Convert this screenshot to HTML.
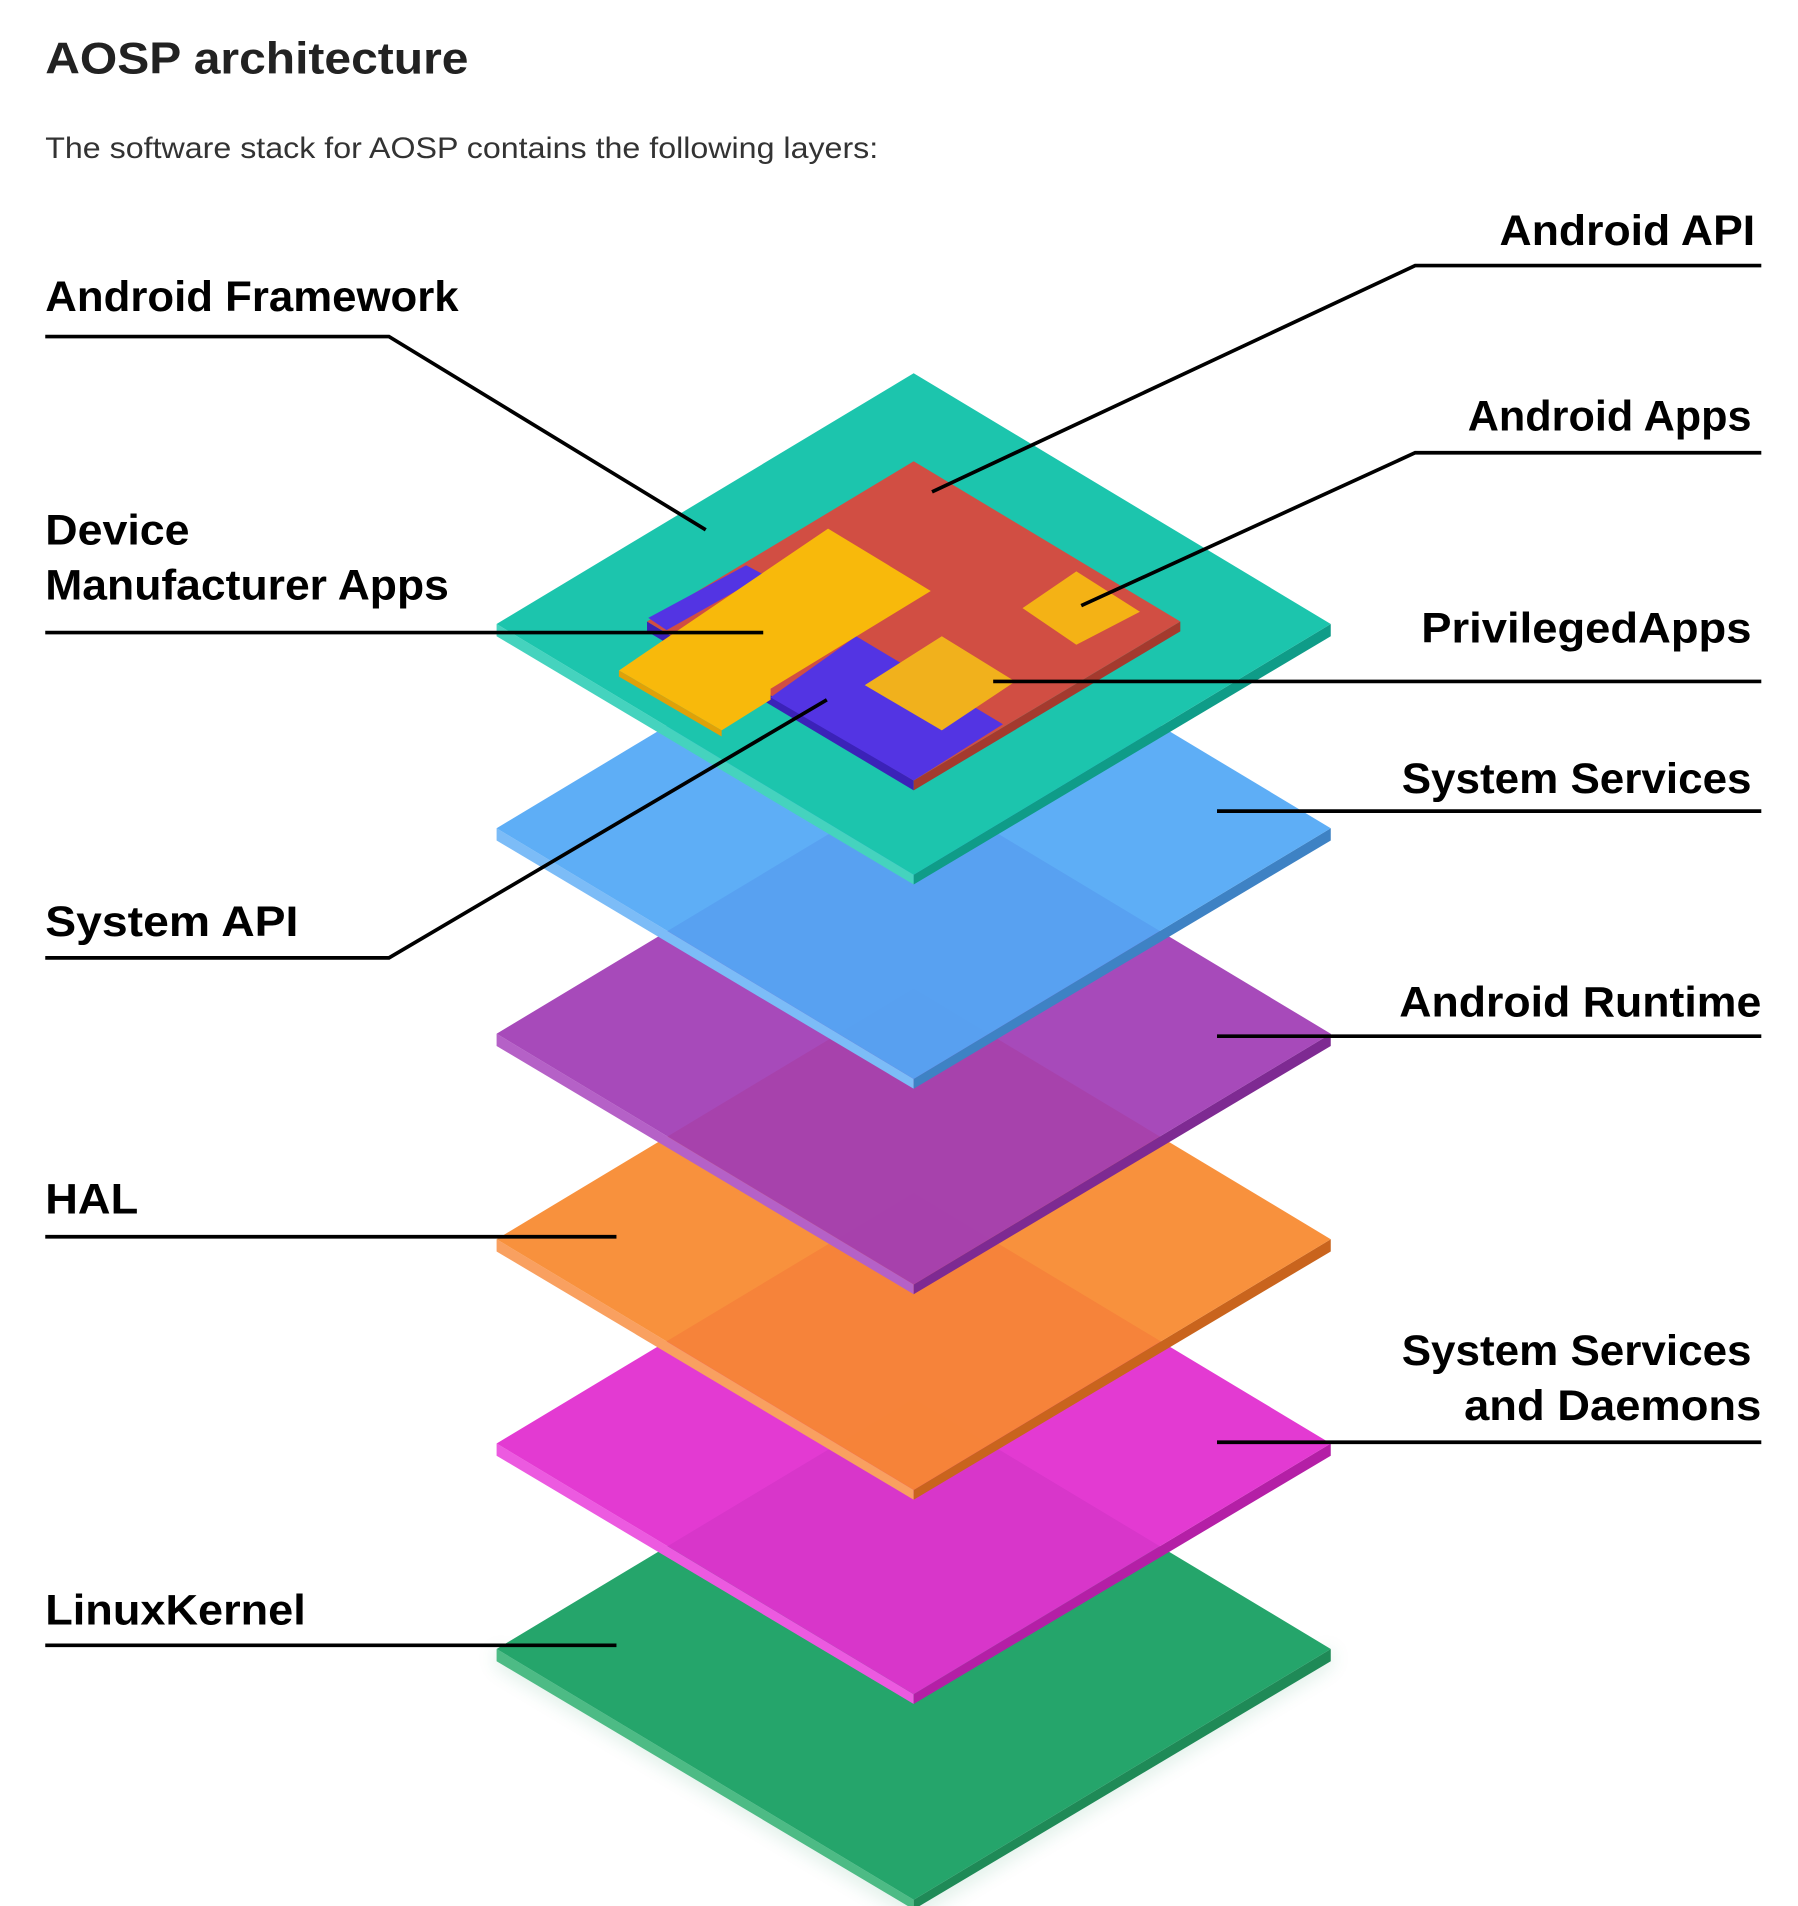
<!DOCTYPE html>
<html><head><meta charset="utf-8"><style>
html,body{margin:0;padding:0;background:#fff;}
svg{display:block;}
text{font-family:"Liberation Sans",Arial,sans-serif;}
.l{font-weight:bold;font-size:35px;fill:#000;}
</style></head><body>
<svg width="1798" height="1906" viewBox="0 0 1470 1558" xmlns="http://www.w3.org/2000/svg">
<defs>
<filter id="sh" x="-20%" y="-20%" width="140%" height="140%"><feGaussianBlur stdDeviation="8"/></filter>
</defs>
<text x="37" y="60" font-size="36" font-weight="bold" fill="#222" textLength="346" lengthAdjust="spacingAndGlyphs">AOSP architecture</text>
<text x="37" y="129" font-size="24" fill="#333" textLength="681" lengthAdjust="spacingAndGlyphs">The software stack for AOSP contains the following layers:</text>

<g>
<polygon points="406,1348 747,1553 1088,1348 1088,1360 747,1565 406,1360" fill="#1f8f5c" opacity="0.2" filter="url(#sh)"/>
<polygon points="406,1348 747,1553 747,1561 406,1358" fill="#4dbb85"/>
<polygon points="1088,1348 747,1553 747,1561 1088,1358" fill="#1f8a57"/>
<polygon points="747,1143 1088,1348 747,1553 406,1348" fill="#25a56b"/>
<polygon points="406,1180 747,1385 747,1393 406,1190" fill="#ec5ae0"/>
<polygon points="1088,1180 747,1385 747,1393 1088,1190" fill="#b41fa6"/>
<polygon points="747,975 1088,1180 747,1385 406,1180" fill="#e12fd0" opacity="0.95"/>
<polygon points="406,1013 747,1218 747,1226 406,1023" fill="#f9a060"/>
<polygon points="1088,1013 747,1218 747,1226 1088,1023" fill="#c9641d"/>
<polygon points="747,808 1088,1013 747,1218 406,1013" fill="#f7892e" opacity="0.93"/>
<polygon points="406,845 747,1050 747,1058 406,855" fill="#b561c7"/>
<polygon points="1088,845 747,1050 747,1058 1088,855" fill="#7e2a92"/>
<polygon points="747,640 1088,845 747,1050 406,845" fill="#a03cb5" opacity="0.93"/>
<polygon points="406,677 747,882 747,890 406,687" fill="#7cbcf7"/>
<polygon points="1088,677 747,882 747,890 1088,687" fill="#3e82c4"/>
<polygon points="747,472 1088,677 747,882 406,677" fill="#52a8f5" opacity="0.93"/>
<polygon points="406,510 747,715 747,723 406,520" fill="#45d3be"/>
<polygon points="1088,510 747,715 747,723 1088,520" fill="#0f9c88"/>
<polygon points="747,305 1088,510 747,715 406,510" fill="#1cc5ad"/>
</g>
<polygon points="529,508 747,638 747,646 529,516" fill="#3b22b8"/>
<polygon points="965,508 747,638 747,646 965,516" fill="#a43a2e"/>
<polygon points="747,377 965,508 747,638 529,508" fill="#d14e43"/>
<polygon points="530,505 610,462 625,470 545,515" fill="#5334e3"/>
<polygon points="700,520 820,592 747,638 630,570" fill="#5334e3"/>
<polygon points="677,432 761,483 630,563 630,572 590,597 506,548" fill="#f8b90b"/>
<polygon points="506,548 590,597 590,602 506,553" fill="#e0a108"/>
<polygon points="770,520 830,557 770,597 707,560" fill="#f1b11c"/>
<polygon points="880,467 932,500 880,527 836,497" fill="#f4b215"/>

<g stroke="#000" stroke-width="3" fill="none">
<polyline points="37,275 318,275 577,433"/>
<polyline points="1440,217 1157,217 762,402"/>
<polyline points="1440,370 1157,370 884,495"/>
<polyline points="37,517 624,517"/>
<polyline points="1440,557 812,557"/>
<polyline points="1440,663 995,663"/>
<polyline points="37,783 318,783 676,572"/>
<polyline points="1440,847 995,847"/>
<polyline points="37,1011 504,1011"/>
<polyline points="1440,1179 995,1179"/>
<polyline points="37,1345 504,1345"/>
</g>

<text class="l" x="37" y="254" textLength="338" lengthAdjust="spacingAndGlyphs">Android Framework</text>
<text class="l" x="1226" y="200" textLength="209" lengthAdjust="spacingAndGlyphs">Android API</text>
<text class="l" x="1200" y="352" textLength="232" lengthAdjust="spacingAndGlyphs">Android Apps</text>
<text class="l" x="37" y="445" textLength="118" lengthAdjust="spacingAndGlyphs">Device</text>
<text class="l" x="37" y="490" textLength="330" lengthAdjust="spacingAndGlyphs">Manufacturer Apps</text>
<text class="l" x="1162" y="525" textLength="270" lengthAdjust="spacingAndGlyphs">PrivilegedApps</text>
<text class="l" x="1146" y="648" textLength="286" lengthAdjust="spacingAndGlyphs">System Services</text>
<text class="l" x="37" y="765" textLength="207" lengthAdjust="spacingAndGlyphs">System API</text>
<text class="l" x="1144" y="831" textLength="296" lengthAdjust="spacingAndGlyphs">Android Runtime</text>
<text class="l" x="37" y="992" textLength="76" lengthAdjust="spacingAndGlyphs">HAL</text>
<text class="l" x="1146" y="1116" textLength="286" lengthAdjust="spacingAndGlyphs">System Services</text>
<text class="l" x="1197" y="1161" textLength="243" lengthAdjust="spacingAndGlyphs">and Daemons</text>
<text class="l" x="37" y="1328" textLength="213" lengthAdjust="spacingAndGlyphs">LinuxKernel</text>
</svg>
</body></html>
